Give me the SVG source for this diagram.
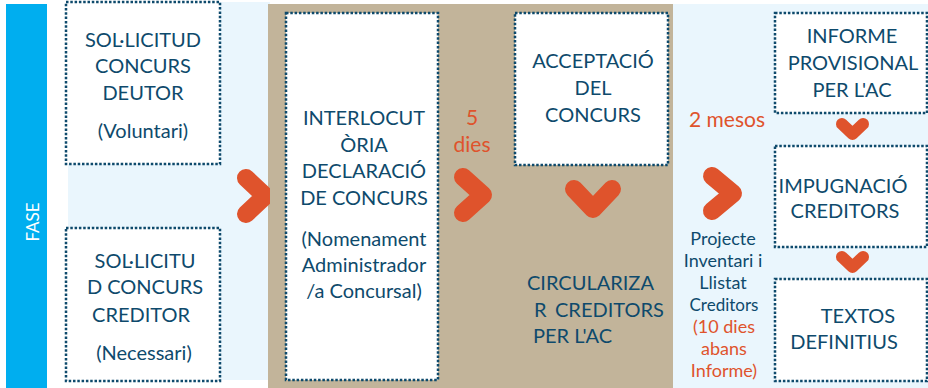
<svg xmlns="http://www.w3.org/2000/svg" width="928" height="388" viewBox="0 0 928 388">
<style>
.box{fill:#fff;stroke:#0E4A6C;stroke-width:2.5;stroke-dasharray:2.5 1.8}
.t{font-family:Lato,"Open Sans","Liberation Sans",sans-serif;font-size:20px;fill:#0E4A6C;text-anchor:middle}
.s{font-size:18px}
.o{fill:#DF532C}
.chev{fill:none;stroke:#DF532C;stroke-width:18;stroke-linecap:round;stroke-linejoin:round}
.chev2{fill:none;stroke:#DF532C;stroke-width:12;stroke-linecap:round;stroke-linejoin:round}
</style>
<defs>
<clipPath id="cl"><rect x="0" y="0" width="270" height="388"/></clipPath>
</defs>
<rect x="0" y="0" width="928" height="388" fill="#fff"/>
<rect x="6" y="4" width="41" height="384" fill="#00AEEF"/>
<rect x="68" y="2" width="202" height="378" fill="#EAF6FD"/>
<rect x="268" y="4" width="405" height="384" fill="#C2B49A"/>
<rect x="673" y="4" width="255" height="384" fill="#EAF6FD"/>
<text x="0" y="0" transform="translate(39,222) rotate(-90)" style="font-family:Lato,'Liberation Sans',sans-serif;font-size:17px;fill:#fff;text-anchor:middle">FASE</text>

<g id="connectors">
<polyline class="chev" clip-path="url(#cl)" points="246,178 265,196 246,214"/>
<polyline class="chev" points="463,177 483,195 463,213"/>
<polyline class="chev" points="574,189 593,209 612,189"/>
<polyline class="chev" points="712,176 733,193.5 712,211"/>
<polyline class="chev2" points="842,124 852.5,134 863,124"/>
<polyline class="chev2" points="842,257 852.5,267 863,257"/>
</g>

<g id="n1">
<rect class="box" x="66" y="2" width="154" height="162"/>
<text class="t" x="143" y="47">SOL·LICITUD</text>
<text class="t" x="143" y="73">CONCURS</text>
<text class="t" x="143" y="100">DEUTOR</text>
<text class="t" x="143" y="138">(Voluntari)</text>
</g>
<g id="n2">
<rect class="box" x="66" y="228" width="154" height="153"/>
<text class="t" x="145" y="268">SOL·LICITU</text>
<text class="t" x="145" y="294">D CONCURS</text>
<text class="t" x="141" y="322">CREDITOR</text>
<text class="t" x="144" y="360">(Necessari)</text>
</g>
<g id="n3">
<rect class="box" x="286" y="13" width="152" height="367"/>
<text class="t" x="364" y="125">INTERLOCUT</text>
<text class="t" x="364" y="152">ÒRIA</text>
<text class="t" x="364" y="178">DECLARACIÓ</text>
<text class="t" x="364" y="205">DE CONCURS</text>
<text class="t" x="364" y="246">(Nomenament</text>
<text class="t" x="364" y="272">Administrador</text>
<text class="t" x="364" y="298">/a Concursal)</text>
</g>
<g id="l5dies">
<text class="t o" x="472" y="125" style="font-size:21px">5</text>
<text class="t o" x="472" y="152" style="font-size:21px">dies</text>
</g>
<g id="n4">
<rect class="box" x="515" y="13" width="153" height="152"/>
<text class="t" x="593" y="68">ACCEPTACIÓ</text>
<text class="t" x="593" y="95">DEL</text>
<text class="t" x="593" y="122">CONCURS</text>
</g>
<g id="n5">
<text class="t" x="527" y="290" style="text-anchor:start">CIRCULARIZA</text>
<text class="t" x="534" y="317" style="text-anchor:start">R<tspan x="555">CREDITORS</tspan></text>
<text class="t" x="533" y="343" style="text-anchor:start">PER L'AC</text>
</g>
<g id="l2mesos">
<text class="t o" x="727" y="127" style="font-size:21px">2 mesos</text>
</g>
<g id="n6">
<text class="t s" x="723" y="245">Projecte</text>
<text class="t s" x="723" y="267">Inventari i</text>
<text class="t s" x="723" y="289">Llistat</text>
<text class="t" x="724" y="311" style="font-size:17px">Creditors</text>
<text class="t o s" x="724" y="333">(10 dies</text>
<text class="t o s" x="724" y="355">abans</text>
<text class="t o s" x="724" y="377">Informe)</text>
</g>
<g id="n7">
<rect class="box" x="775" y="13" width="152" height="100"/>
<text class="t" x="852" y="43">INFORME</text>
<text class="t" x="853" y="70">PROVISIONAL</text>
<text class="t" x="852" y="97">PER L'AC</text>
</g>
<g id="n8">
<rect class="box" x="775" y="146" width="152" height="101"/>
<text class="t" x="843" y="193">IMPUGNACIÓ</text>
<text class="t" x="845" y="218">CREDITORS</text>
</g>
<g id="n9">
<rect class="box" x="775" y="279" width="152" height="102"/>
<text class="t" x="858" y="323">TEXTOS</text>
<text class="t" x="844" y="349">DEFINITIUS</text>
</g>
</svg>
